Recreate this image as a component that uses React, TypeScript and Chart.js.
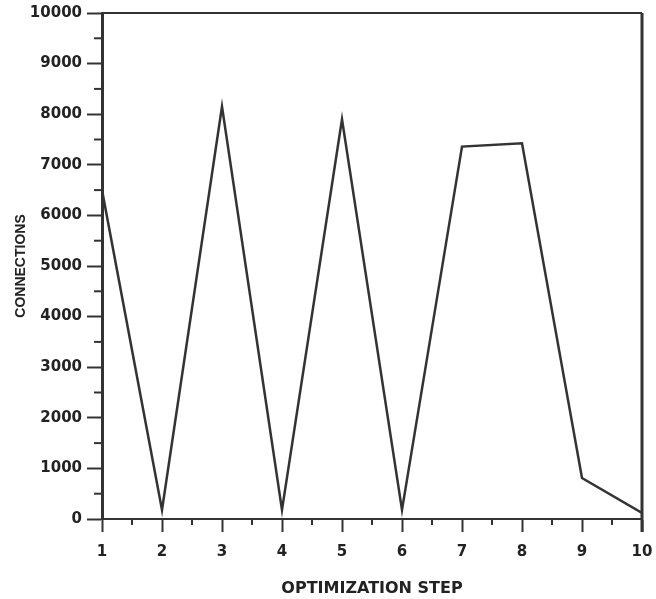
import React, { useEffect, useRef } from "react";
import { Chart, registerables } from "chart.js";

Chart.register(...registerables);

const steps = [1, 2, 3, 4, 5, 6, 7, 8, 9, 10];
const connections = [6500, 180, 8150, 180, 7900, 180, 7360, 7425, 810, 120];
const yMinorTicks = [500, 1500, 2500, 3500, 4500, 5500, 6500, 7500, 8500, 9500];
const xMinorTicks = [1.5, 2.5, 3.5, 4.5, 5.5, 6.5, 7.5, 8.5, 9.5];
const xTitle = "OPTIMIZATION STEP";
const yTitle = "CONNECTIONS";

const INK = "#333333";

const framePlugin = {
  id: "frameAndMinor",
  afterDraw(chart: any) {
    const { ctx, chartArea } = chart;
    const xs = chart.scales.x;
    const ys = chart.scales.y;
    ctx.save();
    ctx.strokeStyle = INK;
    ctx.lineWidth = 2;
    ctx.beginPath();
    ctx.moveTo(chartArea.left, chartArea.top);
    ctx.lineTo(chartArea.right, chartArea.top);
    ctx.stroke();
    ctx.lineWidth = 3;
    ctx.beginPath();
    ctx.moveTo(chartArea.right, chartArea.top);
    ctx.lineTo(chartArea.right, chartArea.bottom + 13);
    ctx.stroke();
    ctx.lineWidth = 2;
    for (const v of yMinorTicks) {
      const py = ys.getPixelForValue(v);
      ctx.beginPath();
      ctx.moveTo(chartArea.left - 8, py);
      ctx.lineTo(chartArea.left, py);
      ctx.stroke();
    }
    for (const v of xMinorTicks) {
      const px = xs.getPixelForValue(v);
      ctx.beginPath();
      ctx.moveTo(px, chartArea.bottom);
      ctx.lineTo(px, chartArea.bottom + 6);
      ctx.stroke();
    }
    ctx.restore();
  },
};

export default function App() {
  const ref = useRef<HTMLCanvasElement | null>(null);
  useEffect(() => {
    document.body.style.margin = "0";
    document.body.style.background = "#ffffff";
    const canvas = ref.current;
    if (!canvas) return;
    const chart = new Chart(canvas, {
      type: "line",
      data: {
        datasets: [
          {
            data: steps.map((s, i) => ({ x: s, y: connections[i] })),
            borderColor: INK,
            borderWidth: 2.5,
            pointRadius: 0,
            tension: 0,
            fill: false,
          },
        ],
      },
      options: {
        animation: false,
        responsive: false,
        layout: { padding: { top: 13, right: 14, left: 0, bottom: 0 } },
        plugins: { legend: { display: false }, tooltip: { enabled: false } },
        scales: {
          x: {
            type: "linear",
            min: 1,
            max: 10,
            afterFit: (s: any) => {
              s.height = 80;
              s.paddingLeft = 0;
              s.paddingRight = 0;
            },
            ticks: {
              stepSize: 1,
              color: "#222",
              padding: 11,
              font: { family: "DejaVu Sans", weight: "bold", size: 15 },
              maxRotation: 0,
              callback: (v: any) => String(v),
            },
            grid: {
              drawOnChartArea: false,
              drawTicks: true,
              tickLength: 13,
              tickWidth: 2,
              tickColor: INK,
            },
            border: { display: true, color: INK, width: 2 },
            title: {
              display: true,
              text: xTitle,
              color: "#222",
              font: { family: "DejaVu Sans", weight: "bold", size: 16 },
              padding: { top: 0, bottom: 1 },
            },
          },
          y: {
            type: "linear",
            min: 0,
            max: 10000,
            afterFit: (s: any) => {
              s.width = 102;
              s.paddingTop = 0;
              s.paddingBottom = 0;
            },
            ticks: {
              stepSize: 1000,
              color: "#222",
              padding: 5,
              font: { family: "DejaVu Sans", weight: "bold", size: 15 },
              callback: (v: any) => String(v),
            },
            grid: {
              drawOnChartArea: false,
              drawTicks: true,
              tickLength: 15,
              tickWidth: 2,
              tickColor: INK,
            },
            border: { display: true, color: INK, width: 3 },
            title: {
              display: true,
              text: yTitle,
              color: "#222",
              font: { family: "'Liberation Sans'", weight: "bold", size: 14 },
              padding: { top: 13, bottom: 0 },
            },
          },
        },
      },
      plugins: [framePlugin],
    });
    return () => chart.destroy();
  }, []);
  return (
    <div style={{ position: "absolute", left: 0, top: 0, width: 656, height: 599 }}>
      <canvas ref={ref} width={656} height={599} />
    </div>
  );
}
